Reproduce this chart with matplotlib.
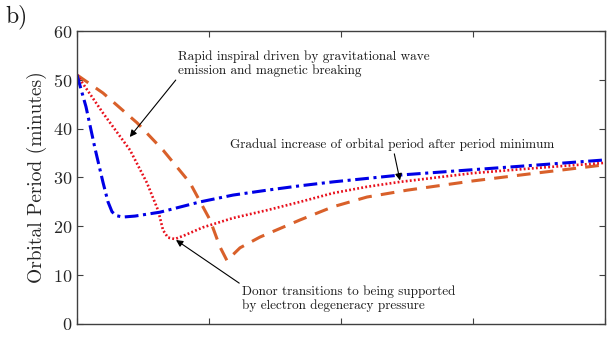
import matplotlib
matplotlib.use("Agg")
import matplotlib.pyplot as plt

plt.rcParams['font.family'] = ['cmr10', 'DejaVu Serif']
plt.rcParams['axes.formatter.use_mathtext'] = True

# Data (x in arbitrary units 0..4, y = orbital period in minutes)
blue_x = [0, 0.068, 0.136, 0.197, 0.235, 0.265, 0.295, 0.348, 0.439, 0.629, 0.932,
          1.182, 1.439, 1.689, 1.939, 2.447, 3.0, 3.508, 4.0]
blue_y = [51, 44.5, 36, 29, 25, 23, 22.2, 21.9, 22.1, 22.9, 25,
          26.4, 27.4, 28.3, 29.1, 30.5, 31.6, 32.6, 33.6]

red_x = [0, 0.197, 0.402, 0.530, 0.614, 0.652, 0.689, 0.742, 0.818, 0.955,
         1.182, 1.439, 1.689, 1.939, 2.197, 2.447, 3.0, 3.508, 4.0]
red_y = [51, 43.2, 35.6, 28.9, 23.3, 19.2, 17.7, 17.4, 18.2, 19.8,
         21.7, 23.3, 25, 26.8, 28.1, 29.1, 30.9, 32, 33]

orange_x = [0, 0.197, 0.455, 0.652, 0.856, 1.008, 1.083, 1.136, 1.235, 1.386,
            1.689, 1.939, 2.197, 2.5, 3.0, 3.508, 4.0]
orange_y = [51, 47.3, 41.2, 35.6, 28.9, 21.3, 15.8, 13.0, 15.6, 17.8,
            21.3, 24, 26, 27.4, 29.3, 31, 32.6]

y_ticks = [0, 10, 20, 30, 40, 50, 60]
x_ticks = [0, 1, 2, 3, 4]

fig = plt.figure(figsize=(6.15, 3.46), dpi=100)
ax = fig.add_axes([0.1252, 0.0636, 0.8585, 0.8468])

ax.plot(orange_x, orange_y, color='#d9602a', lw=2.2, ls=(0, (4.5, 3.0)))
ax.plot(red_x, red_y, color='#e8101c', lw=1.9, ls=(0, (0.7, 0.85)))
ax.plot(blue_x, blue_y, color='#0000e6', lw=2.2, ls=(0, (4.5, 1.5, 1.0, 1.5)))

ax.set_xlim(0, 4)
ax.set_ylim(0, 60)
ax.set_yticks(y_ticks)
ax.set_xticks(x_ticks)
ax.set_xticklabels([])
ax.tick_params(direction='in', top=True, right=True, length=4, width=0.8,
               color='#404040', labelsize=13, labelcolor='#262626')
for s in ax.spines.values():
    s.set_color('#404040')
    s.set_linewidth(1.0)
ax.set_ylabel('Orbital Period (minutes)', fontsize=14, color='#262626', labelpad=4)

fig.text(0.008, 0.935, 'b)', fontsize=17, color='#1a1a1a')

ap = dict(arrowstyle='-|>', color='black', lw=0.8, mutation_scale=10)
fs = 9.5
ax.annotate('Rapid inspiral driven by gravitational wave\nemission and magnetic breaking',
            xy=(0.40, 38.3), xytext=(0.765, 53.3), fontsize=fs, ha='left', va='center',
            color='#1a1a1a', linespacing=1.2,
            arrowprops=dict(ap, shrinkA=0, shrinkB=0, relpos=(0.0, 0.0)))
ax.annotate('Gradual increase of orbital period after period minimum',
            xy=(2.447, 29.4), xytext=(1.159, 36.7), fontsize=fs, ha='left', va='center',
            color='#1a1a1a',
            arrowprops=dict(ap, shrinkA=0, shrinkB=0, relpos=(0.505, 0.0)))
ax.annotate('Donor transitions to being supported\nby electron degeneracy pressure',
            xy=(0.75, 17.2), xytext=(1.250, 5.2), fontsize=fs, ha='left', va='center',
            color='#1a1a1a', linespacing=1.2,
            arrowprops=dict(ap, shrinkA=0, shrinkB=0, relpos=(0.0, 1.0)))

fig.savefig('out.png', dpi=100)
